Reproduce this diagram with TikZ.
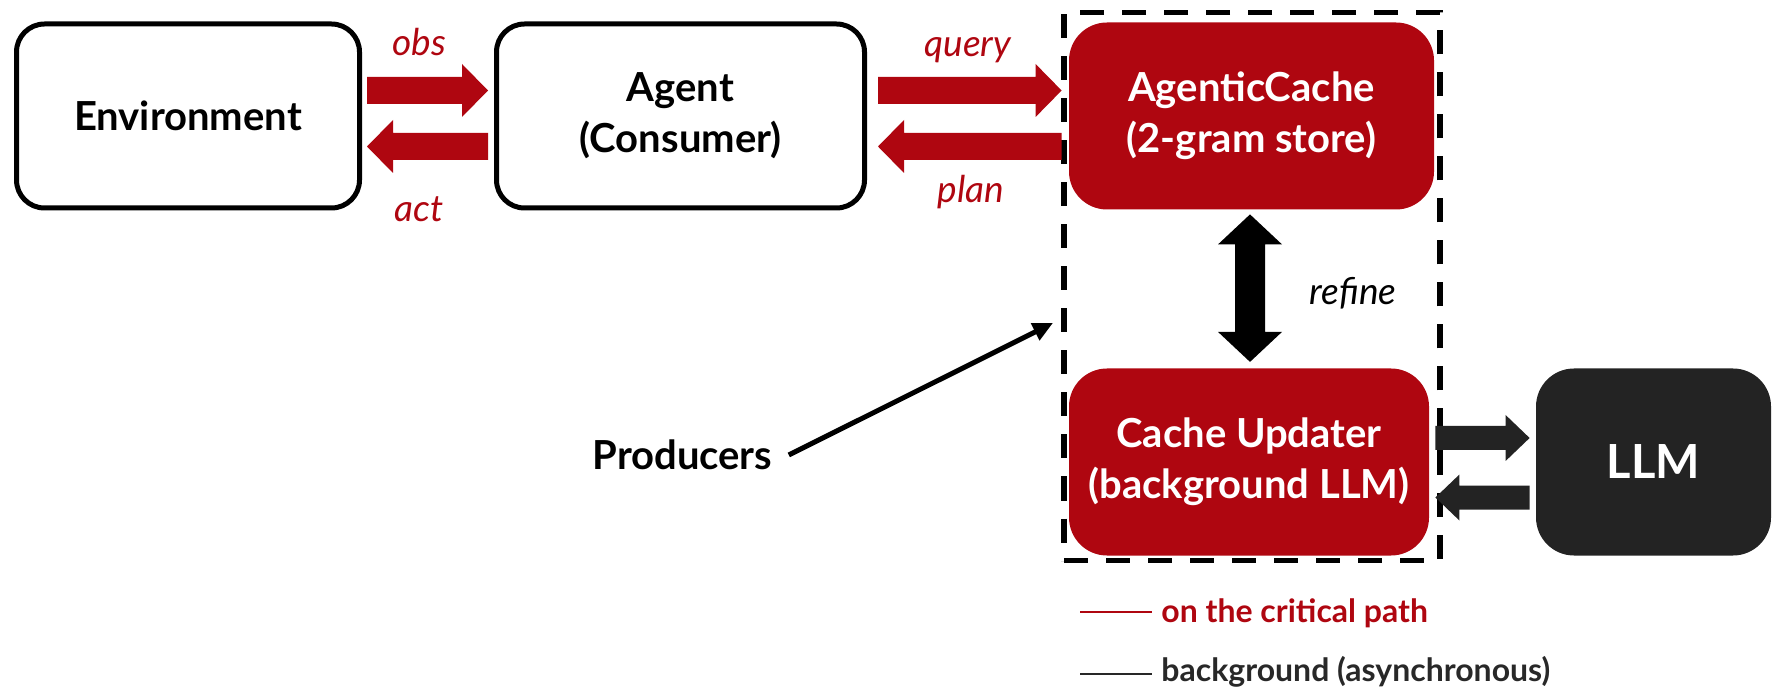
\documentclass[tikz,border=0pt]{standalone}
\usepackage{fontspec}
\setmainfont{Lato}
\usetikzlibrary{arrows.meta,calc}
\definecolor{crit}{RGB}{175,6,16}
\definecolor{dark}{RGB}{35,35,35}
\definecolor{legdark}{RGB}{40,40,40}
\tikzset{
  boxfont/.style={font=\bfseries\fontsize{20}{25.5}\selectfont},
  plainbox/.style={draw=black, line width=2.5pt, rounded corners=14pt, fill=white, align=center, boxfont, inner sep=0pt},
  redbox/.style={fill=crit, rounded corners=19pt, text=white, align=center, boxfont, inner sep=0pt},
  llmbox/.style={fill=dark, rounded corners=19pt, text=white, align=center, font=\bfseries\fontsize{23.5}{28}\selectfont, inner sep=0pt},
  dashbox/.style={draw=black, line width=2.9pt, dash pattern=on 12pt off 9pt, inner sep=0pt},
  lbl/.style={font=\itshape\fontsize{18.5}{22}\selectfont, inner sep=0pt, anchor=base},
  harr/.style n args={3}{to path={
    let \p1=(\tikztostart), \p2=(\tikztotarget), \n1={ifthenelse(\x2>\x1,1,-1)} in
    (\x1,\y1+#1) -- (\x2-\n1*#3,\y1+#1) -- (\x2-\n1*#3,\y1+#2) -- (\x2,\y1)
    -- (\x2-\n1*#3,\y1-#2) -- (\x2-\n1*#3,\y1-#1) -- (\x1,\y1-#1) -- cycle}},
  vdarr/.style n args={3}{to path={
    let \p1=(\tikztostart), \p2=(\tikztotarget) in
    (\x1,\y1) -- (\x1+#2,\y1-#3) -- (\x1+#1,\y1-#3) -- (\x1+#1,\y2+#3) -- (\x1+#2,\y2+#3)
    -- (\x1,\y2) -- (\x1-#2,\y2+#3) -- (\x1-#1,\y2+#3) -- (\x1-#1,\y1-#3) -- (\x1-#2,\y1-#3) -- cycle}},
  redarr/.style={harr={6.75pt}{13.25pt}{13pt}},
  darkarr/.style={harr={6pt}{11.5pt}{12pt}},
  legfont/.style={font=\bfseries\fontsize{16}{19}\selectfont, inner sep=0pt, anchor=base west}
}
\begin{document}
\begin{tikzpicture}[x=0.5pt,y=-0.5pt]
\useasboundingbox (0,0) rectangle (1772,689);
% dashed region
\node[dashbox, minimum width=188pt, minimum height=274pt] (region) at (1252,286.5) {};
% boxes
\node[plainbox, minimum width=171.5pt, minimum height=92pt] (env) at (188,116) {Environment};
\node[plainbox, minimum width=184pt, minimum height=92pt] (agent) at (680.5,116) {Agent\\(Consumer)};
\node[redbox, minimum width=182.5pt, minimum height=93.5pt] (ac) at (1251.5,116) {AgenticCache\\(2-gram store)};
\node[redbox, minimum width=180pt, minimum height=93.5pt] (cu) at (1249,462) {Cache Updater\\(background LLM)};
\node[llmbox, minimum width=117.5pt, minimum height=93.5pt] (llm) at (1653.5,462) {LLM};
% red block arrows
\fill[crit] ($(env.east)+(5,-25.5)$) to[redarr] ($(agent.west)+(-6,-25.5)$);
\fill[crit] ($(agent.west)+(-6,30.5)$) to[redarr] ($(env.east)+(5,30.5)$);
\fill[crit] ($(agent.east)+(11,-25.5)$) to[redarr] ($(ac.west)+(-7,-25.5)$);
\fill[crit] ($(ac.west)+(-7,30.5)$) to[redarr] ($(agent.east)+(11,30.5)$);
% dark block arrows
\fill[dark] ($(cu.east)+(6,-24)$) to[darkarr] ($(llm.west)+(-6,-24)$);
\fill[dark] ($(llm.west)+(-6,35.5)$) to[darkarr] ($(cu.east)+(6,35.5)$);
% refine double arrow
\fill[black] ($(ac.south)+(-1.5,4.5)$) to[vdarr={7.5pt}{16pt}{15pt}] ($(ac.south)+(-1.5,152)$);
% labels
\node[lbl, text=crit] (obs) at (419,56) {obs};
\node[lbl, text=crit] (act) at (419,222) {act};
\node[lbl, text=crit] (query) at (968,57) {query};
\node[lbl, text=crit] (plan) at (971,203) {plan};
\node[lbl, text=black] (refine) at (1353,305) {refine};
% producers
\node[font=\bfseries\fontsize{20}{24}\selectfont, inner sep=0pt] (prod) at (682.5,455) {Producers};
\coordinate (prodtip) at (1053,323);
\draw[line width=2.5pt, -{Triangle[length=10pt,width=9pt]}] ($(prod.east)+(16,0)$) -- (prodtip);
% legend
\node[legfont, text=crit] (leg1) at (1161,622.7) {on the critical path};
\node[legfont, text=legdark] (leg2) at (1161,681.7) {background (asynchronous)};
\draw[crit, line width=1.1pt] ($(leg1.base west)+(-81,-10.7)$) -- ($(leg1.base west)+(-9,-10.7)$);
\draw[legdark, line width=1.1pt] ($(leg2.base west)+(-81,-7.7)$) -- ($(leg2.base west)+(-9,-7.7)$);
\end{tikzpicture}
\end{document}
